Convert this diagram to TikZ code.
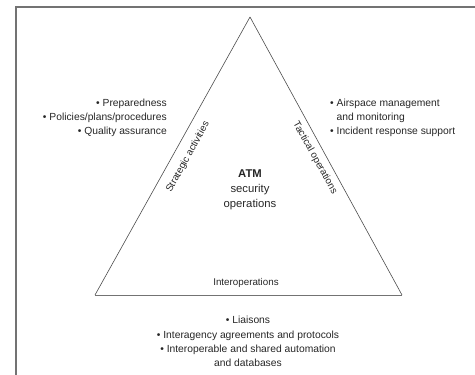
\documentclass[tikz,border=0pt]{standalone}
\usepackage{fontspec}
\setmainfont{Liberation Sans}
\begin{document}
\begin{tikzpicture}[x=1pt,y=-1pt,
  frameline/.style={draw=black!55, line width=1.6pt},
  triline/.style={draw=black!70, line width=0.6pt},
  listtext/.style={inner sep=0pt, font=\fontsize{10.3}{14.2}\selectfont, text=black!85},
  edgelabel/.style={inner sep=0pt, font=\fontsize{9.8}{12}\selectfont, text=black!85},
  centertext/.style={inner sep=0pt, align=center, font=\fontsize{11.3}{15}\selectfont, text=black!85}]
\useasboundingbox (0,0) rectangle (475,375);
% frame (top and left visible)
\coordinate (fTR) at (476,7);
\coordinate (fTL) at (16,7);
\coordinate (fBL) at (16,376);
\draw[frameline] (fTR) -- (fTL) -- (fBL);
% triangle
\coordinate (apex) at (250,17);
\coordinate (bl) at (95,295);
\coordinate (br) at (402,295);
\draw[triline] (apex) -- (br);
\draw[triline] (apex) -- (bl);
\draw[draw=black!55, line width=1pt] (bl) -- (br);
% edge labels
\node[edgelabel, rotate=61] (strat) at (188,157) {Strategic activities};
\node[edgelabel, rotate=-61] (tact) at (315,158) {Tactical operations};
\node[edgelabel] (inter) at (246,283) {Interoperations};
% center
\node[centertext] (atm) at (250,190) {\textbf{ATM}\\security\\operations};
% lists
\node[listtext, align=right, anchor=east] (left) at (167,118)
  {• Preparedness\\• Policies/plans/procedures\\• Quality assurance};
\node[listtext, align=left, anchor=west] (right) at (330,118)
  {• Airspace management\\\phantom{• }and monitoring\\• Incident response support};
\node[listtext, align=center] (bottom) at (248,341.5)
  {• Liaisons\\• Interagency agreements and protocols\\• Interoperable and shared automation\\and databases};
\end{tikzpicture}
\end{document}
